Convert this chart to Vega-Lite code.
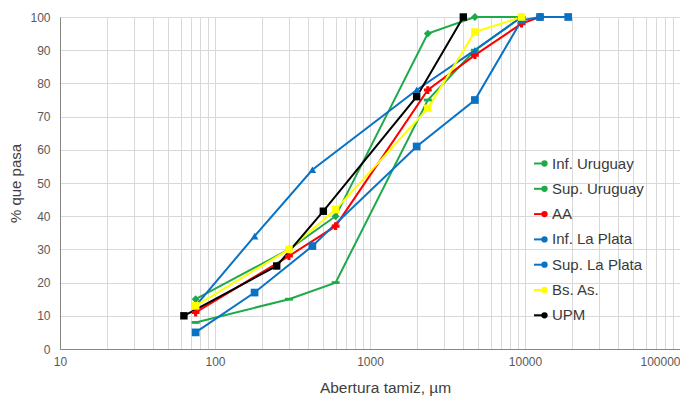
{
  "$schema": "https://vega.github.io/schema/vega-lite/v6.json",
  "width": 620,
  "height": 332,
  "autosize": {"type": "none"},
  "padding": {"left": 60, "top": 17, "right": 0, "bottom": 47},
  "background": "white",
  "config": {
    "font": "Liberation Sans",
    "view": {"stroke": null},
    "axis": {
      "gridColor": "#D9D9D9",
      "gridWidth": 1,
      "domainColor": "#868686",
      "domainWidth": 1,
      "ticks": false,
      "labelColor": "#595959",
      "labelFontSize": 12,
      "titleColor": "#404040",
      "titleFontSize": 15.5,
      "titleFontWeight": "normal"
    }
  },
  "data": {
    "values": [
      {"series": "Inf. Uruguay", "size": 75, "pass": 8},
      {"series": "Inf. Uruguay", "size": 300, "pass": 15},
      {"series": "Inf. Uruguay", "size": 600, "pass": 20},
      {"series": "Inf. Uruguay", "size": 2360, "pass": 75},
      {"series": "Inf. Uruguay", "size": 4750, "pass": 90},
      {"series": "Inf. Uruguay", "size": 9500, "pass": 100},
      {"series": "Sup. Uruguay", "size": 75, "pass": 15},
      {"series": "Sup. Uruguay", "size": 300, "pass": 30},
      {"series": "Sup. Uruguay", "size": 600, "pass": 40},
      {"series": "Sup. Uruguay", "size": 2360, "pass": 95},
      {"series": "Sup. Uruguay", "size": 4750, "pass": 100},
      {"series": "Sup. Uruguay", "size": 9500, "pass": 100},
      {"series": "AA", "size": 75, "pass": 11},
      {"series": "AA", "size": 300, "pass": 28},
      {"series": "AA", "size": 600, "pass": 37},
      {"series": "AA", "size": 2360, "pass": 78},
      {"series": "AA", "size": 4750, "pass": 88.5},
      {"series": "AA", "size": 9500, "pass": 98},
      {"series": "AA", "size": 12500, "pass": 100},
      {"series": "Inf. La Plata", "size": 75, "pass": 5},
      {"series": "Inf. La Plata", "size": 180, "pass": 17},
      {"series": "Inf. La Plata", "size": 425, "pass": 31},
      {"series": "Inf. La Plata", "size": 2000, "pass": 61},
      {"series": "Inf. La Plata", "size": 4750, "pass": 75},
      {"series": "Inf. La Plata", "size": 9500, "pass": 99},
      {"series": "Inf. La Plata", "size": 12500, "pass": 100},
      {"series": "Inf. La Plata", "size": 19000, "pass": 100},
      {"series": "Sup. La Plata", "size": 75, "pass": 13},
      {"series": "Sup. La Plata", "size": 180, "pass": 34},
      {"series": "Sup. La Plata", "size": 425, "pass": 54},
      {"series": "Sup. La Plata", "size": 2000, "pass": 78},
      {"series": "Sup. La Plata", "size": 4750, "pass": 90},
      {"series": "Sup. La Plata", "size": 9500, "pass": 100},
      {"series": "Bs. As.", "size": 75, "pass": 13},
      {"series": "Bs. As.", "size": 300, "pass": 30},
      {"series": "Bs. As.", "size": 600, "pass": 42},
      {"series": "Bs. As.", "size": 2360, "pass": 72.5},
      {"series": "Bs. As.", "size": 4750, "pass": 95.5},
      {"series": "Bs. As.", "size": 9500, "pass": 100},
      {"series": "UPM", "size": 63, "pass": 10},
      {"series": "UPM", "size": 250, "pass": 25},
      {"series": "UPM", "size": 500, "pass": 41.5},
      {"series": "UPM", "size": 2000, "pass": 76},
      {"series": "UPM", "size": 4000, "pass": 100}
    ]
  },
  "encoding": {
    "x": {
      "field": "size",
      "type": "quantitative",
      "scale": {"type": "log", "domain": [10, 100000], "nice": false},
      "axis": {
        "title": "Abertura tamiz, µm",
        "titleX": 325,
        "values": [10, 20, 30, 40, 50, 60, 70, 80, 90, 100, 200, 300, 400, 500, 600, 700, 800, 900, 1000, 2000, 3000, 4000, 5000, 6000, 7000, 8000, 9000, 10000, 20000, 30000, 40000, 50000, 60000, 70000, 80000, 90000, 100000],
        "labelExpr": "datum.value == 10 || datum.value == 100 || datum.value == 1000 || datum.value == 10000 || datum.value == 100000 ? format(datum.value, 'd') : ''",
        "labelOverlap": false,
        "labelFlush": false,
        "labelAlign": {"condition": {"test": "datum.value == 100000", "value": "right"}, "value": "center"},
        "labelPadding": 7,
        "titlePadding": 13
      }
    },
    "y": {
      "field": "pass",
      "type": "quantitative",
      "scale": {"domain": [0, 100], "nice": false},
      "axis": {
        "title": "% que pasa",
        "titleFontSize": 15,
        "values": [0, 10, 20, 30, 40, 50, 60, 70, 80, 90, 100],
        "labelPadding": 10,
        "titlePadding": 6
      }
    }
  },
  "resolve": {"scale": {"color": "independent"}, "legend": {"color": "independent"}},
  "layer": [
    {
      "mark": {"type": "line", "strokeWidth": 2},
      "encoding": {
        "order": {"field": "size", "type": "quantitative"},
        "color": {
          "field": "series",
          "type": "nominal",
          "scale": {
            "domain": ["Inf. Uruguay", "Sup. Uruguay", "AA", "Inf. La Plata", "Sup. La Plata", "Bs. As.", "UPM"],
            "range": ["#1EAA4A", "#1EAA4A", "#FF0000", "#0A72C4", "#0A72C4", "#FFFF00", "#000000"]
          },
          "legend": {
            "title": null,
            "orient": "none",
            "legendX": 473,
            "legendY": 139,
            "labelFontSize": 15,
            "labelColor": "#3A3A3A",
            "labelOffset": 4,
            "symbolType": "stroke",
            "symbolSize": 169,
            "symbolStrokeWidth": 2,
            "rowPadding": 9.3
          }
        }
      }
    },
    {
      "mark": {"type": "point", "filled": true, "opacity": 1},
      "encoding": {
        "color": {
          "field": "series",
          "type": "nominal",
          "scale": {
            "domain": ["Inf. Uruguay", "Sup. Uruguay", "AA", "Inf. La Plata", "Sup. La Plata", "Bs. As.", "UPM"],
            "range": ["#1EAA4A", "#1EAA4A", "#FF0000", "#0A72C4", "#0A72C4", "#FFFF00", "#000000"]
          },
          "legend": {
            "title": null,
            "orient": "none",
            "legendX": 477,
            "legendY": 139,
            "labelFontSize": 15,
            "labelOpacity": 0,
            "labelOffset": 8,
            "symbolSize": 40,
            "symbolStrokeWidth": 0,
            "symbolOpacity": 1,
            "rowPadding": 9.3
          }
        },
        "shape": {
          "field": "series",
          "type": "nominal",
          "scale": {
            "domain": ["Inf. Uruguay", "Sup. Uruguay", "AA", "Inf. La Plata", "Sup. La Plata", "Bs. As.", "UPM"],
            "range": ["M-1,-0.35H1V0.35H-1Z", "diamond", "cross", "square", "triangle-up", "square", "square"]
          },
          "legend": {
            "title": null,
            "orient": "none",
            "legendX": 477,
            "legendY": 139,
            "labelFontSize": 15,
            "labelOpacity": 0,
            "labelOffset": 8,
            "symbolSize": 40,
            "symbolStrokeWidth": 0,
            "symbolOpacity": 1,
            "rowPadding": 9.3
          }
        },
        "size": {
          "field": "series",
          "type": "nominal",
          "scale": {
            "domain": ["Inf. Uruguay", "Sup. Uruguay", "AA", "Inf. La Plata", "Sup. La Plata", "Bs. As.", "UPM"],
            "range": [64, 55, 32, 36, 36, 36, 36]
          },
          "legend": null
        }
      }
    }
  ]
}
